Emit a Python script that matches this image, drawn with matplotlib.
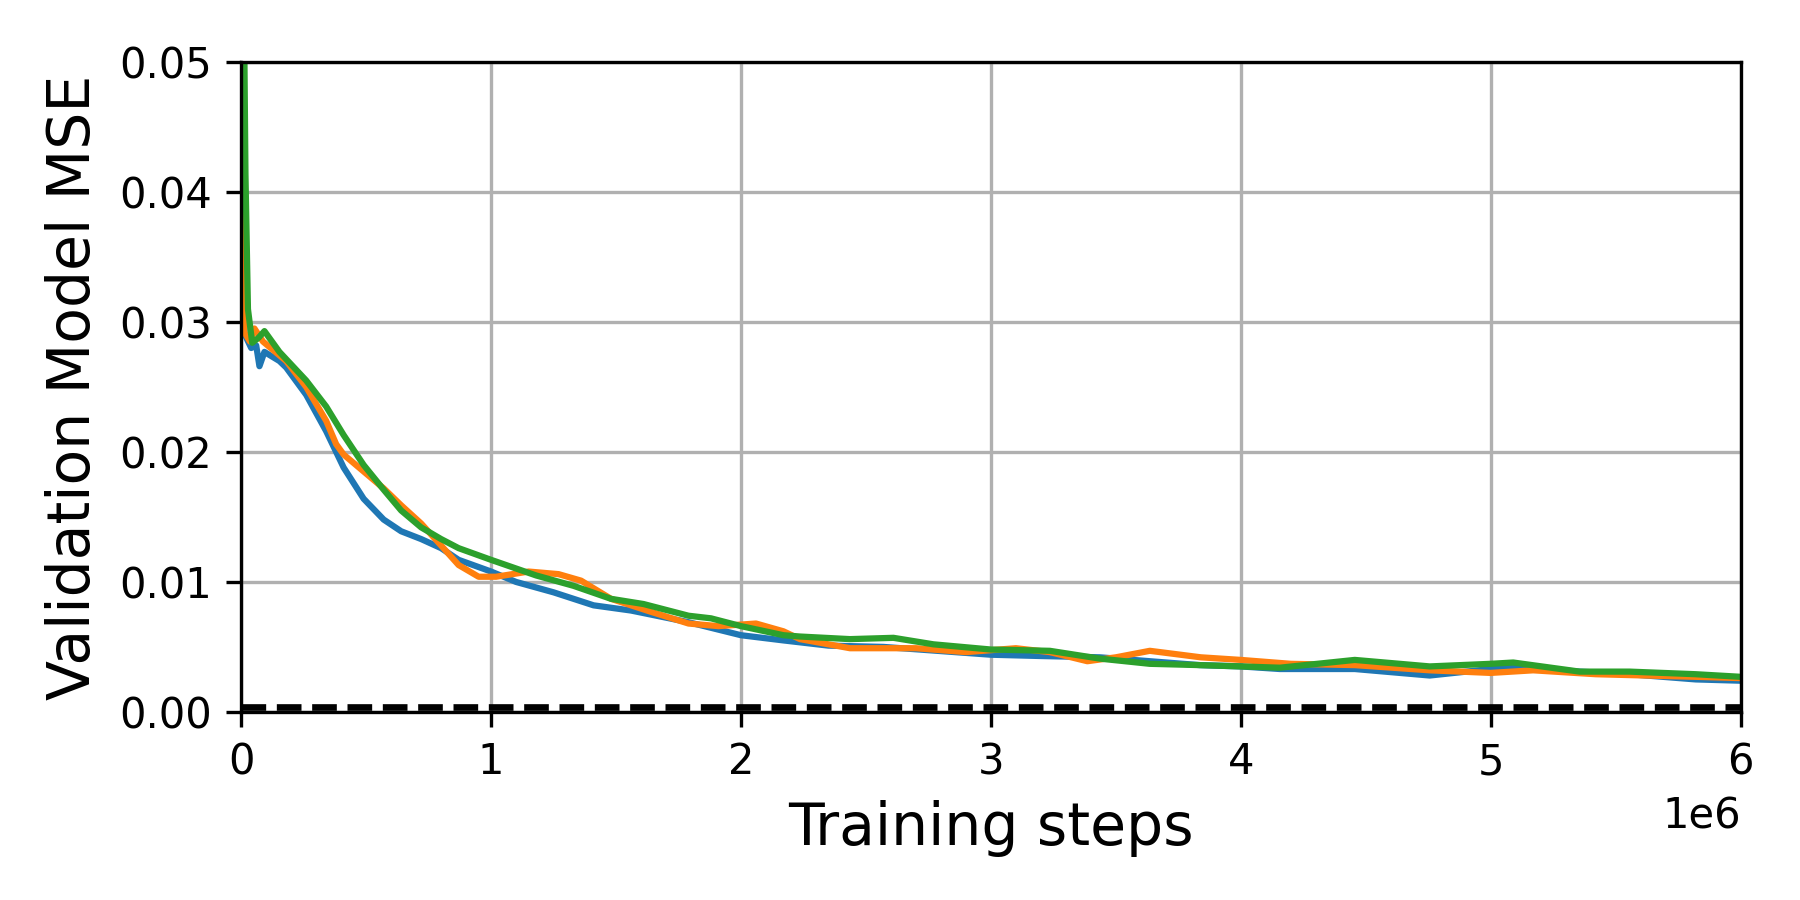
import matplotlib
matplotlib.use("Agg")
import matplotlib.pyplot as plt
import numpy as np

# training steps in millions, validation MSE
x_blue = [0, 0.013, 0.04, 0.06, 0.073, 0.093, 0.153, 0.18, 0.26, 0.34, 0.41, 0.49,
          0.57, 0.64, 0.72, 0.80, 0.87, 1.0, 1.1, 1.25, 1.41, 1.56, 1.79, 2.0,
          2.17, 2.35, 2.57, 3.0, 3.2, 3.436, 3.636, 3.836, 4.0, 4.156, 4.456,
          4.756, 5.0, 5.09, 5.356, 5.556, 5.82, 6.0]
y_blue = [0.075, 0.0291, 0.028, 0.0282, 0.0266, 0.0277, 0.027, 0.0265, 0.0244,
          0.0216, 0.0188, 0.0164, 0.0148, 0.0139, 0.0133, 0.0126, 0.0117, 0.0108,
          0.0100, 0.0092, 0.0082, 0.0078, 0.0069, 0.0059, 0.0055, 0.0051, 0.0050,
          0.0044, 0.0043, 0.0042, 0.0039, 0.0036, 0.0035, 0.0033, 0.0033, 0.0028,
          0.0033, 0.00345, 0.0031, 0.0029, 0.0025, 0.0024]

x_orange = [0, 0.013, 0.035, 0.053, 0.087, 0.18, 0.26, 0.34, 0.38, 0.41, 0.49,
            0.57, 0.64, 0.72, 0.80, 0.87, 0.95, 1.02, 1.15, 1.27, 1.36, 1.48,
            1.64, 1.79, 1.91, 2.06, 2.17, 2.236, 2.436, 2.7, 2.9, 3.1, 3.236,
            3.386, 3.5, 3.636, 3.84, 4.0, 4.2, 4.456, 4.756, 5.0, 5.17, 5.42,
            5.82, 6.0]
y_orange = [0.075, 0.0292, 0.0285, 0.0295, 0.0285, 0.027, 0.025, 0.0224, 0.0206,
            0.0198, 0.0185, 0.0172, 0.0159, 0.0145, 0.0128, 0.0113, 0.0104, 0.0104,
            0.0108, 0.0106, 0.0101, 0.0087, 0.0077, 0.0068, 0.0066, 0.0068, 0.0062,
            0.0056, 0.0049, 0.0049, 0.0046, 0.0049, 0.0046, 0.0039, 0.0042, 0.0047,
            0.0042, 0.0040, 0.0037, 0.0036, 0.0032, 0.0030, 0.0032, 0.0029, 0.0027,
            0.0026]

x_green = [0, 0.013, 0.017, 0.027, 0.044, 0.07, 0.093, 0.153, 0.26, 0.34, 0.41,
           0.49, 0.57, 0.64, 0.72, 0.80, 0.87, 1.0, 1.18, 1.33, 1.48, 1.61, 1.79,
           1.88, 2.0, 2.17, 2.236, 2.436, 2.61, 2.77, 3.0, 3.236, 3.436, 3.636,
           3.836, 4.0, 4.156, 4.456, 4.756, 5.0, 5.09, 5.356, 5.556, 5.82, 6.0]
y_green = [0.075, 0.05, 0.0414, 0.031, 0.0284, 0.0288, 0.0293, 0.0277, 0.0255,
           0.0235, 0.0213, 0.019, 0.0171, 0.0155, 0.0142, 0.0133, 0.0126, 0.0117,
           0.0105, 0.0097, 0.0087, 0.0083, 0.0074, 0.0072, 0.0066, 0.0059, 0.0058,
           0.0056, 0.0057, 0.0052, 0.0048, 0.0047, 0.0041, 0.0037, 0.0036, 0.0035,
           0.0034, 0.0040, 0.0035, 0.0037, 0.0038, 0.0031, 0.0031, 0.0029, 0.0027]

baseline = 0.00035

fig, ax = plt.subplots(figsize=(6, 3), dpi=300)
fig.subplots_adjust(left=0.134, right=0.967, top=0.931, bottom=0.209)

ax.plot(np.array(x_blue) * 1e6, y_blue, color='tab:blue', lw=1.5)
ax.plot(np.array(x_orange) * 1e6, y_orange, color='tab:orange', lw=1.5)
ax.plot(np.array(x_green) * 1e6, y_green, color='tab:green', lw=1.5)
ax.axhline(baseline, color='black', ls='--', lw=1.6)

ax.set_xlim(0, 6e6)
ax.set_ylim(0, 0.05)
ax.grid(True)
ax.tick_params(labelsize=10)
ax.xaxis.get_offset_text().set_fontsize(10)
ax.set_xlabel('Training steps', fontsize=14)
ax.set_ylabel('Validation Model MSE', fontsize=14)

fig.savefig('out.png', dpi=300)
